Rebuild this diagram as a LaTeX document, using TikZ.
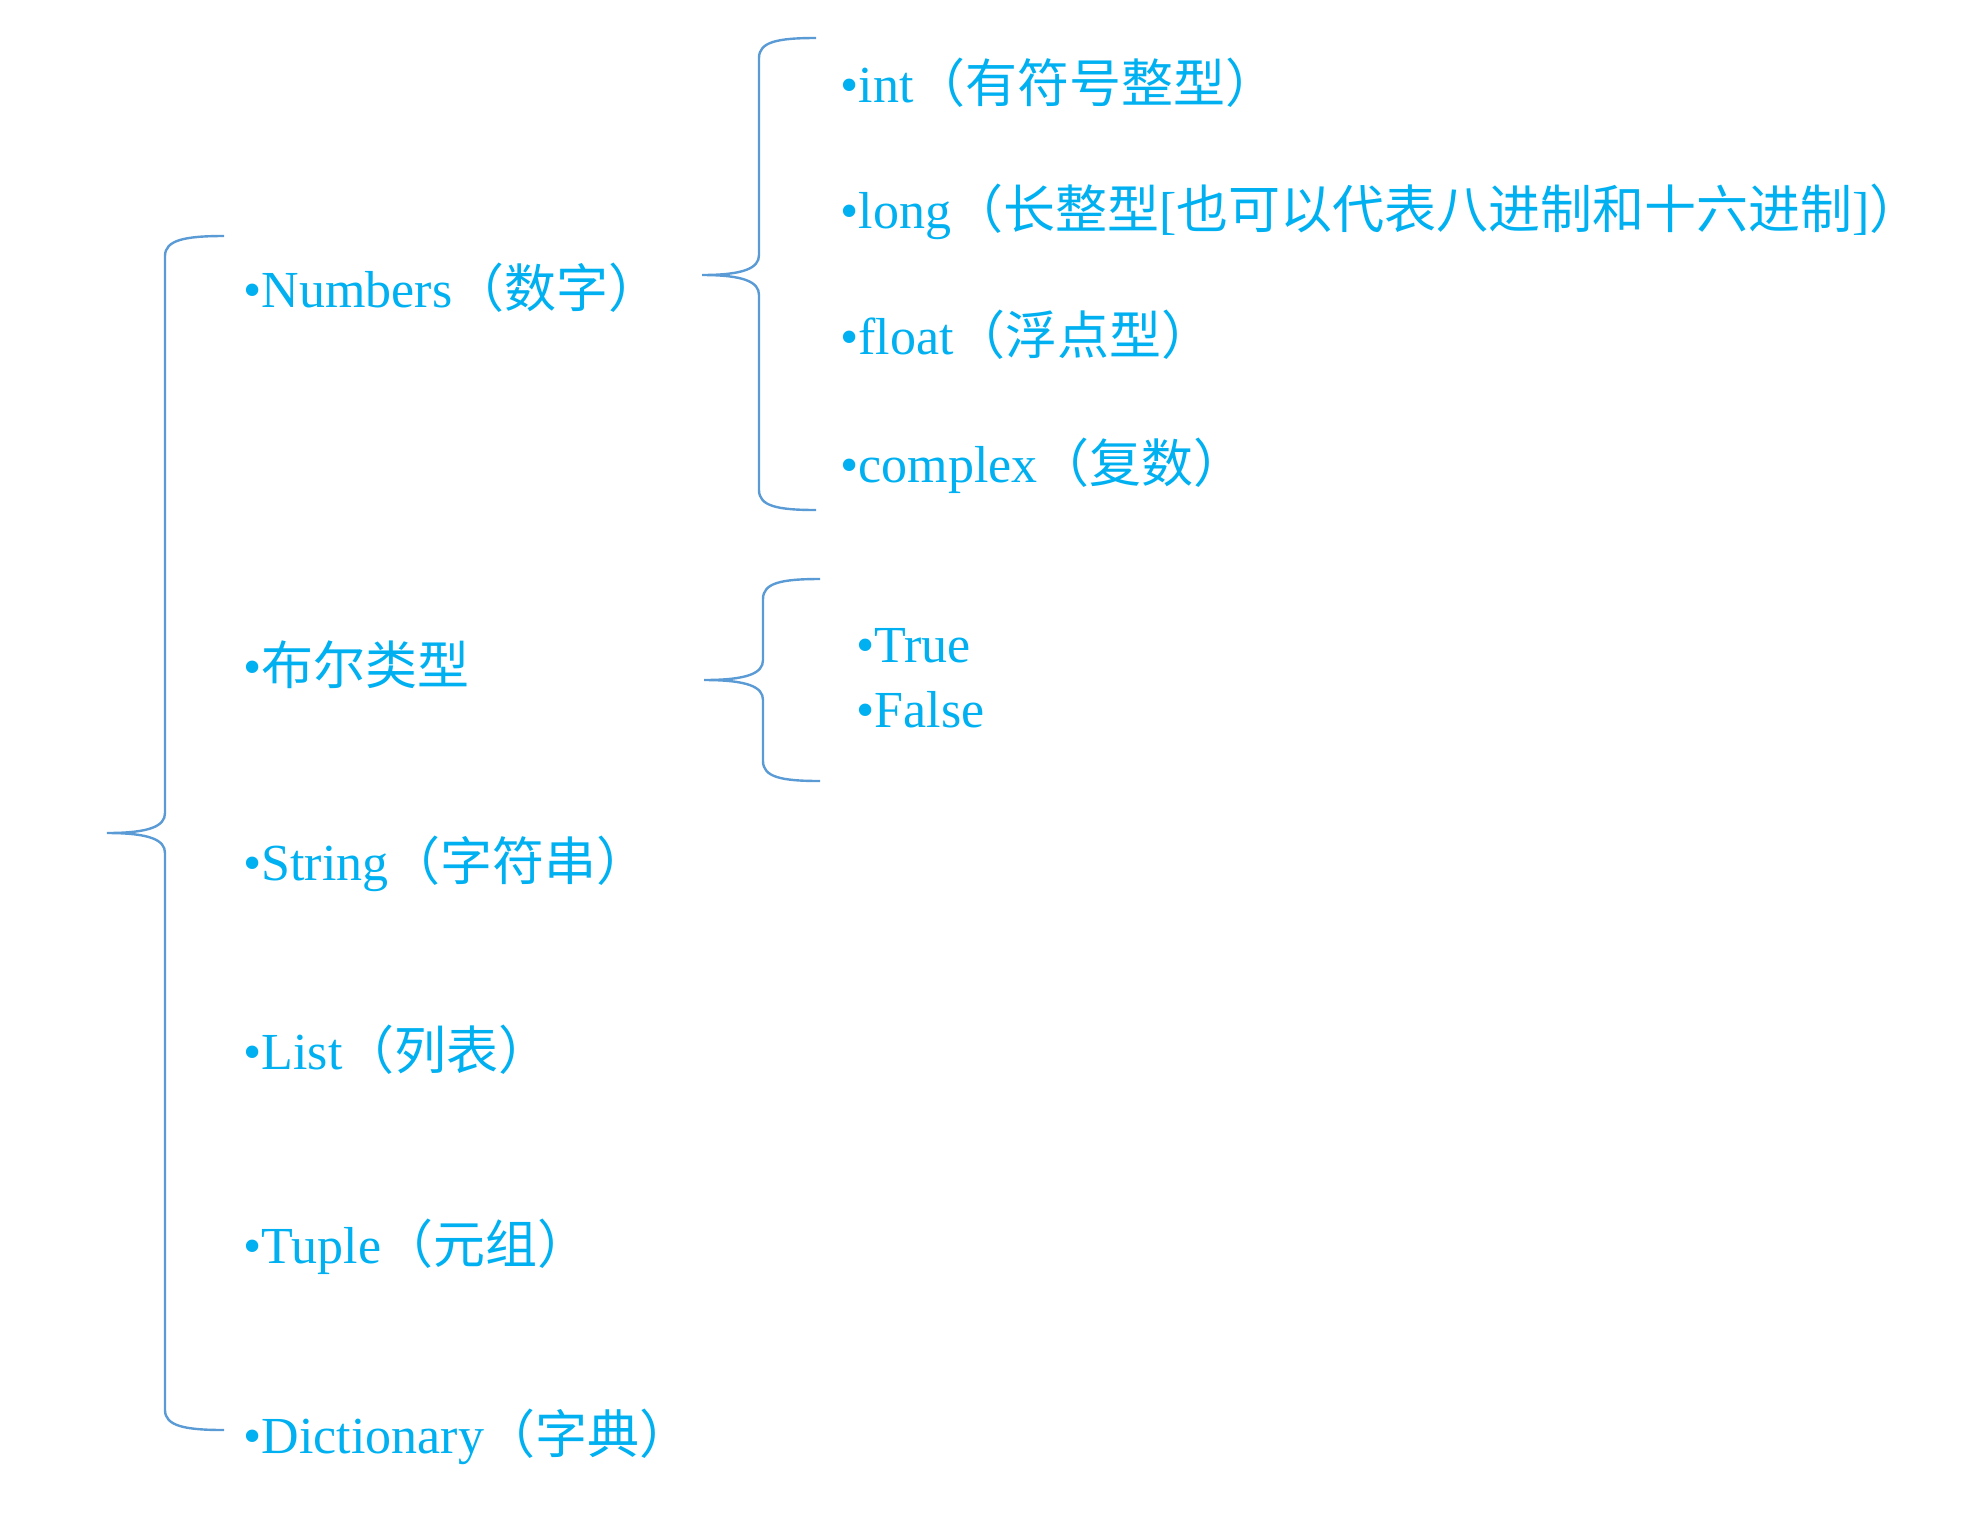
\documentclass[tikz,border=0pt]{standalone}
\usepackage{fontspec}
\setmainfont{Liberation Serif}
\newfontfamily\cjk{Noto Sans CJK SC}
\definecolor{txtblue}{HTML}{00B0F0}
\definecolor{braceblue}{HTML}{5B9BD5}
\begin{document}
\begin{tikzpicture}[x=0.5pt,y=-0.5pt,
  item/.style={anchor=base west, inner sep=0pt, text=txtblue, font=\fontsize{26}{30}\selectfont},
  brace/.style={draw=braceblue, line width=1.2pt}]
\useasboundingbox (0,0) rectangle (1976,1522);
% braces
\coordinate (bigtop) at (224,236);
\coordinate (bigtip) at (107,833);
\coordinate (bigbot) at (224,1430);
\draw[brace] (bigtop) .. controls (185,236) and (165,240) .. (165,256) -- (165,813)
  .. controls (165,826) and (150,833) .. (bigtip)
  .. controls (150,833) and (165,840) .. (165,853) -- (165,1410)
  .. controls (165,1426) and (185,1430) .. (bigbot);
\coordinate (numtop) at (816,38);
\coordinate (numtip) at (702,275);
\coordinate (numbot) at (816,510);
\draw[brace] (numtop) .. controls (777,38) and (759,42) .. (759,58) -- (759,255)
  .. controls (759,268) and (744,275) .. (numtip)
  .. controls (744,275) and (759,282) .. (759,295) -- (759,490)
  .. controls (759,506) and (777,510) .. (numbot);
\coordinate (booltop) at (820,579);
\coordinate (booltip) at (704,680);
\coordinate (boolbot) at (820,781);
\draw[brace] (booltop) .. controls (781,579) and (763,583) .. (763,599) -- (763,660)
  .. controls (763,673) and (748,680) .. (booltip)
  .. controls (748,680) and (763,687) .. (763,700) -- (763,761)
  .. controls (763,777) and (781,781) .. (boolbot);
% left column
\node[item] (num) at (243,307) {•Numbers{\cjk （数字）}};
\node[item] (bool) at (243,684) {•{\cjk 布尔类型}};
\node[item] (str) at (243,880) {•String{\cjk （字符串）}};
\node[item] (list) at (243,1069) {•List{\cjk （列表）}};
\node[item] (tup) at (243,1263) {•Tuple{\cjk （元组）}};
\node[item] (dict) at (243,1453) {•Dictionary{\cjk （字典）}};
% right column
\node[item] (int) at (840,102) {•int{\cjk （有符号整型）}};
\node[item] (long) at (840,228) {•long{\cjk （长整型}[{\cjk 也可以代表八进制和十六进制}]{\cjk ）}};
\node[item] (float) at (840,354) {•float{\cjk （浮点型）}};
\node[item] (cplx) at (840,482) {•complex{\cjk （复数）}};
\node[item] (true) at (856,662) {•True};
\node[item] (false) at (856,727) {•False};
\end{tikzpicture}
\end{document}
